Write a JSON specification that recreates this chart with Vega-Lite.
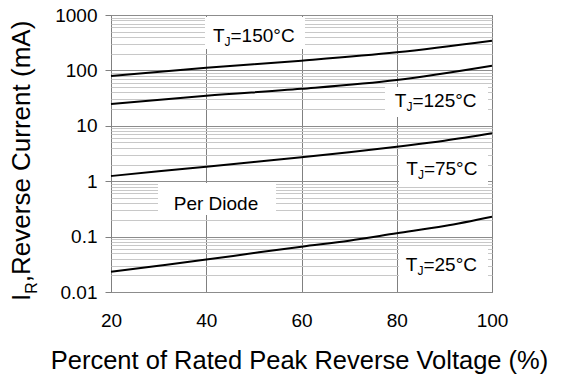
{
  "$schema": "https://vega.github.io/schema/vega-lite/v6.json",
  "autosize": {"type": "none"},
  "width": 381,
  "height": 277,
  "padding": {"left": 111, "top": 15, "right": 79, "bottom": 88},
  "background": "white",
  "config": {
    "font": "Liberation Sans",
    "view": {"stroke": "#808080", "strokeWidth": 1}
  },
  "datasets": {
    "curves": [
      {"series": "150", "x": 20, "y": 79.4},
      {"series": "150", "x": 40, "y": 112},
      {"series": "150", "x": 60, "y": 150},
      {"series": "150", "x": 80, "y": 212},
      {"series": "150", "x": 100, "y": 344},
      {"series": "125", "x": 20, "y": 24.8},
      {"series": "125", "x": 40, "y": 35},
      {"series": "125", "x": 60, "y": 46.5},
      {"series": "125", "x": 80, "y": 67.1},
      {"series": "125", "x": 100, "y": 121.6},
      {"series": "75", "x": 20, "y": 1.24},
      {"series": "75", "x": 30, "y": 1.51},
      {"series": "75", "x": 40, "y": 1.83},
      {"series": "75", "x": 50, "y": 2.22},
      {"series": "75", "x": 60, "y": 2.7},
      {"series": "75", "x": 70, "y": 3.33},
      {"series": "75", "x": 80, "y": 4.2},
      {"series": "75", "x": 90, "y": 5.38},
      {"series": "75", "x": 100, "y": 7.32},
      {"series": "25", "x": 20, "y": 0.0232},
      {"series": "25", "x": 30, "y": 0.0298},
      {"series": "25", "x": 40, "y": 0.0385},
      {"series": "25", "x": 50, "y": 0.0505},
      {"series": "25", "x": 60, "y": 0.0658},
      {"series": "25", "x": 70, "y": 0.0843},
      {"series": "25", "x": 80, "y": 0.1146},
      {"series": "25", "x": 90, "y": 0.155},
      {"series": "25", "x": 100, "y": 0.2286}
    ],
    "boxes": [
      {"x": 39.74, "x2": 60.73, "y": 920, "y2": 243},
      {"x": 29.87, "x2": 54.65, "y": 0.929, "y2": 0.245},
      {"x": 77.53, "x2": 99.16, "y": 50.1, "y2": 14.4},
      {"x": 80.47, "x2": 99.16, "y": 3.23, "y2": 0.853},
      {"x": 80.47, "x2": 99.16, "y": 0.0649, "y2": 0.0158}
    ],
    "tj": [
      {"x": 41.4, "y": 326, "rest": "=150°C"},
      {"x": 79.6, "y": 21.8, "rest": "=125°C"},
      {"x": 82.0, "y": 1.29, "rest": "=75°C"},
      {"x": 81.9, "y": 0.0239, "rest": "=25°C"}
    ],
    "note": [{"x": 42.05, "y": 0.302, "text": "Per Diode"}],
    "ytitle": [{"x": 2.99, "y": 0.00688}]
  },
  "encoding": {
    "x": {
      "field": "x",
      "type": "quantitative",
      "scale": {"domain": [20, 100], "nice": false, "zero": false},
      "axis": {
        "values": [20, 40, 60, 80, 100],
        "grid": true,
        "gridColor": "#808080",
        "gridWidth": 1,
        "ticks": false,
        "domain": false,
        "labelFontSize": 19,
        "labelColor": "black",
        "labelPadding": 19,
        "labelFlush": false,
        "title": "Percent of Rated Peak Reverse Voltage (%)",
        "titleFontSize": 25.5,
        "titleFontWeight": "normal",
        "titleColor": "black",
        "titleBaseline": "alphabetic",
        "titleAlign": "center",
        "titleX": 188,
        "titleY": 76
      }
    },
    "y": {
      "field": "y",
      "type": "quantitative",
      "scale": {"type": "log", "domain": [0.01, 1000], "nice": false},
      "axis": {
        "values": [0.01, 0.02, 0.03, 0.04, 0.05, 0.06, 0.07, 0.08, 0.09, 0.1, 0.2, 0.3, 0.4, 0.5, 0.6, 0.7, 0.8, 0.9, 1, 2, 3, 4, 5, 6, 7, 8, 9, 10, 20, 30, 40, 50, 60, 70, 80, 90, 100, 200, 300, 400, 500, 600, 700, 800, 900, 1000],
        "format": "~g",
        "labelExpr": "indexof([0.01, 0.1, 1, 10, 100, 1000], datum.value) >= 0 ? datum.label : ''",
        "labelOverlap": false,
        "grid": true,
        "gridColor": {"condition": {"test": "indexof([0.01, 0.1, 1, 10, 100, 1000], datum.value) >= 0", "value": "#8c8c8c"}, "value": "#c8c8c8"},
        "gridWidth": 1,
        "tickOpacity": {"condition": {"test": "indexof([0.01, 0.1, 1, 10, 100, 1000], datum.value) >= 0", "value": 1}, "value": 0},
        "tickColor": "#808080",
        "tickSize": 6,
        "domain": false,
        "labelFontSize": 19,
        "labelColor": "black",
        "labelPadding": 8,
        "title": null
      }
    }
  },
  "layer": [
    {
      "data": {"name": "boxes"},
      "mark": {"type": "rect", "color": "white"},
      "encoding": {"x2": {"field": "x2"}, "y2": {"field": "y2"}}
    },
    {
      "data": {"name": "curves"},
      "mark": {"type": "line", "color": "black", "strokeWidth": 2, "interpolate": "monotone"},
      "encoding": {"detail": {"field": "series"}}
    },
    {
      "data": {"name": "tj"},
      "mark": {"type": "text", "align": "left", "baseline": "alphabetic", "fontSize": 19, "color": "black"},
      "encoding": {"text": {"value": "T"}}
    },
    {
      "data": {"name": "tj"},
      "mark": {"type": "text", "align": "left", "baseline": "alphabetic", "fontSize": 12, "dx": 11.6, "dy": 4, "color": "black"},
      "encoding": {"text": {"value": "J"}}
    },
    {
      "data": {"name": "tj"},
      "mark": {"type": "text", "align": "left", "baseline": "alphabetic", "fontSize": 19, "dx": 17.6, "color": "black"},
      "encoding": {"text": {"field": "rest"}}
    },
    {
      "data": {"name": "note"},
      "mark": {"type": "text", "align": "center", "baseline": "alphabetic", "fontSize": 19, "color": "black"},
      "encoding": {"text": {"field": "text"}}
    },
    {
      "data": {"name": "ytitle"},
      "mark": {"type": "text", "align": "left", "baseline": "alphabetic", "fontSize": 26, "angle": 270, "color": "black"},
      "encoding": {"text": {"value": "I"}}
    },
    {
      "data": {"name": "ytitle"},
      "mark": {"type": "text", "align": "left", "baseline": "alphabetic", "fontSize": 16, "angle": 270, "dx": 7.2, "dy": 7, "color": "black"},
      "encoding": {"text": {"value": "R"}}
    },
    {
      "data": {"name": "ytitle"},
      "mark": {"type": "text", "align": "left", "baseline": "alphabetic", "fontSize": 26, "angle": 270, "dx": 18.8, "color": "black"},
      "encoding": {"text": {"value": ",Reverse Current (mA)"}}
    }
  ]
}
